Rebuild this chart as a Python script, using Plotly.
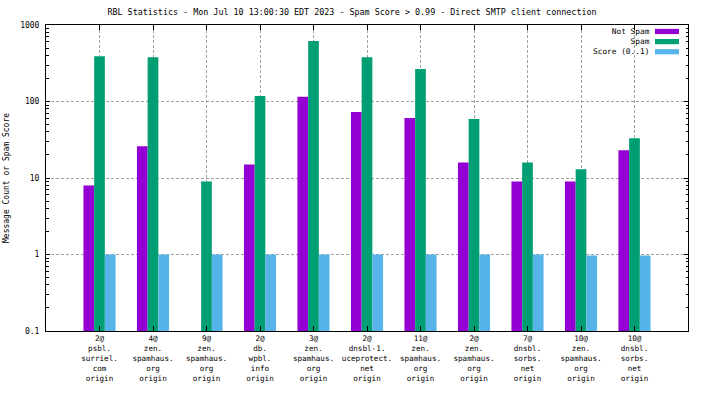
import plotly.graph_objects as go

categories = [
    "2@<br>psbl.<br>surriel.<br>com<br>origin",
    "4@<br>zen.<br>spamhaus.<br>org<br>origin",
    "9@<br>zen.<br>spamhaus.<br>org<br>origin",
    "2@<br>db.<br>wpbl.<br>info<br>origin",
    "3@<br>zen.<br>spamhaus.<br>org<br>origin",
    "2@<br>dnsbl-1.<br>uceprotect.<br>net<br>origin",
    "11@<br>zen.<br>spamhaus.<br>org<br>origin",
    "2@<br>zen.<br>spamhaus.<br>org<br>origin",
    "7@<br>dnsbl.<br>sorbs.<br>net<br>origin",
    "10@<br>zen.<br>spamhaus.<br>org<br>origin",
    "10@<br>dnsbl.<br>sorbs.<br>net<br>origin",
]
not_spam = [8, 26, None, 15, 115, 73, 61, 16, 9, 9, 23]
spam = [390, 380, 9, 118, 617, 380, 266, 59, 16, 13, 33]
score = [1, 1, 1, 1, 1, 1, 1, 1, 1, 0.97, 0.97]

series_names = ["Not Spam", "Spam", "Score (0..1)"]
colors = ["#9400D3", "#009E73", "#56B4E9"]
y_tickvals = [0.1, 1, 10, 100, 1000]
y_ticktext = ["0.1", "1", "10", "100", "1000"]

title_text = "RBL Statistics - Mon Jul 10 13:00:30 EDT 2023 - Spam Score > 0.99 - Direct SMTP client connection"
ylabel = "Message Count or Spam Score"

FONT = "DejaVu Sans Mono"
W, H = 704, 396
L, R, T, B = 46, 16, 24.5, 65
PW, PH = W - L - R, H - T - B
x_idx = list(range(len(categories)))
GRID_DASH = "3px,2px"

fig = go.Figure()
for name, vals, c in zip(series_names, [not_spam, spam, score], colors):
    fig.add_trace(go.Bar(x=x_idx, y=vals, name=name, marker=dict(color=c, line=dict(width=0)),
                         showlegend=False, hoverinfo="skip"))

fig.update_layout(
    width=W, height=H,
    margin=dict(l=L, r=R, t=T, b=B),
    paper_bgcolor="white", plot_bgcolor="white",
    barmode="group", bargap=0.4, bargroupgap=0,
    font=dict(family=FONT, size=8, color="black"),
    title=dict(text=title_text, x=0.5, xanchor="center", y=1 - 12/H, yanchor="middle",
               font=dict(family=FONT, size=8.4, color="black")),
    xaxis=dict(range=[-1, 11], tickvals=x_idx, ticktext=categories,
               showgrid=True, gridcolor="#a0a0a0", griddash=GRID_DASH, gridwidth=1,
               showline=True, linecolor="black", linewidth=1, mirror="ticks",
               ticks="inside", ticklen=5, tickcolor="black", zeroline=False,
               tickfont=dict(family=FONT, size=7.6), tickangle=0),
    yaxis=dict(type="log", range=[-1, 3], tickvals=y_tickvals, ticktext=y_ticktext,
               showgrid=True, gridcolor="#a0a0a0", griddash=GRID_DASH, gridwidth=1,
               showline=True, linecolor="black", linewidth=1, mirror="allticks",
               ticks="inside", ticklen=4, tickcolor="black", zeroline=False,
               ticklabelstandoff=4,
               minor=dict(ticks="inside", ticklen=2.5, tickcolor="black", dtick="D1", showgrid=False),
               tickfont=dict(family=FONT, size=8)),
)

# y-axis label
fig.add_annotation(text=ylabel, xref="paper", yref="paper", x=(6 - L) / PW, y=0.5,
                   textangle=-90, showarrow=False, xanchor="center", yanchor="middle",
                   font=dict(family=FONT, size=8))

# custom legend (text right-aligned, swatch on the right, like gnuplot)
leg_size = 7.8
line_h = leg_size * 1.3
top_line = 31
fig.add_annotation(text="<br>".join(series_names), xref="paper", yref="paper",
                   x=(651 - L) / PW, y=(H - B - (top_line - line_h / 2)) / PH,
                   xanchor="right", yanchor="top", align="right", showarrow=False,
                   borderpad=0, font=dict(family=FONT, size=leg_size))
for i, c in enumerate(colors):
    ypx = top_line + line_h * i
    yp = (H - B - ypx) / PH
    fig.add_shape(type="rect", xref="paper", yref="paper",
                  x0=(655 - L) / PW, x1=(679 - L) / PW,
                  y0=yp - 2.6 / PH, y1=yp + 2.6 / PH,
                  fillcolor=c, line=dict(width=0))

fig.write_html("out.html",
               config={"displayModeBar": False, "staticPlot": True},
               post_script="document.body.style.margin='0';document.body.style.padding='0';"
                           "document.body.style.overflow='hidden';")
